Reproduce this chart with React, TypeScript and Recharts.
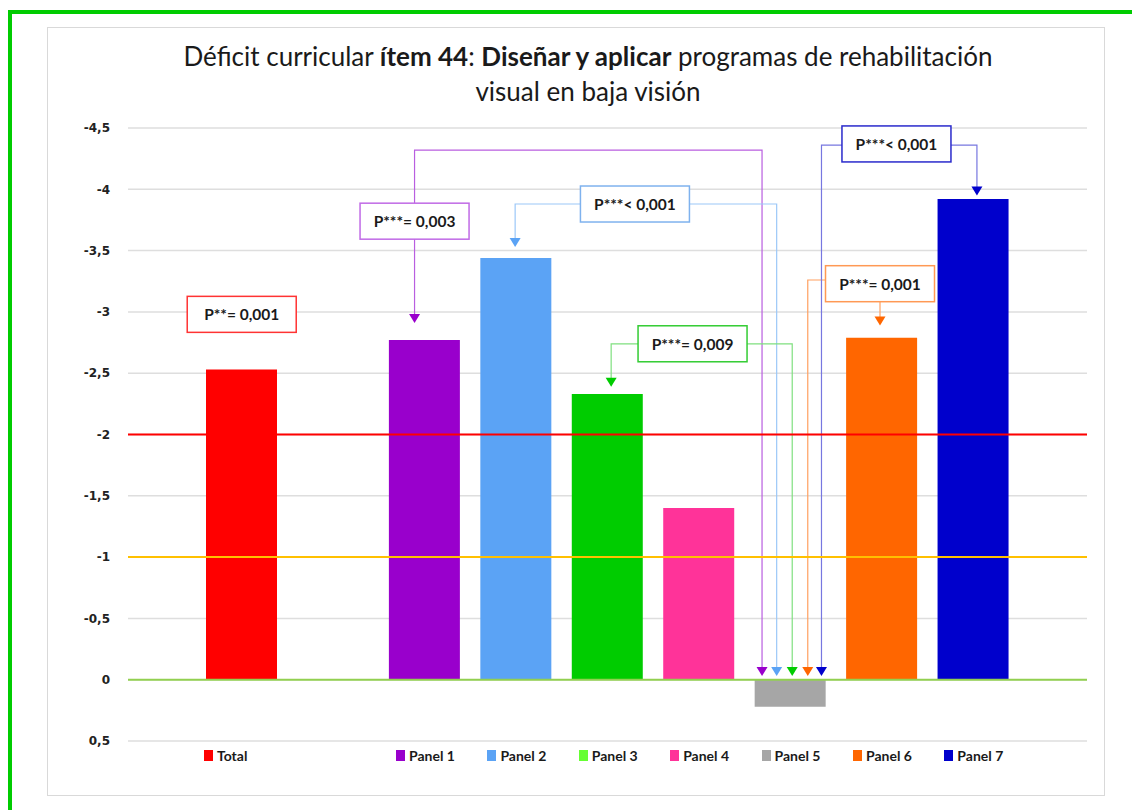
import { BarChart, Bar, XAxis, YAxis, CartesianGrid, ReferenceLine, Cell, Customized, usePlotArea } from 'recharts'

// categories (empty slot between Total and the panels)
const categories = ['Total', '', 'Panel 1', 'Panel 2', 'Panel 3', 'Panel 4', 'Panel 5', 'Panel 6', 'Panel 7']
const values = [-2.53, null, -2.77, -3.44, -2.33, -1.4, 0.22, -2.79, -3.92]
const barColors = ['#ff0000', 'transparent', '#9900cc', '#5ba3f5', '#00cc00', '#ff3399', '#a6a6a6', '#ff6600', '#0000cc']

const yTicks = [-4.5, -4, -3.5, -3, -2.5, -2, -1.5, -1, -0.5, 0, 0.5]

const legendNames = ['Total', 'Panel 1', 'Panel 2', 'Panel 3', 'Panel 4', 'Panel 5', 'Panel 6', 'Panel 7']
const legendColors = ['#ff0000', '#9900cc', '#5ba3f5', '#66ff33', '#ff3399', '#a6a6a6', '#ff6600', '#0000cc']

// threshold lines
const thresholds = [
  { y: -2, color: '#ff0000' },
  { y: -1, color: '#ffc000' },
  { y: 0, color: '#92d050' },
]

// significance boxes: position in category units (0 = Total) and value units,
// connector paths end with an arrow
const annotations = [
  { label: 'P**= 0,001', border: '#ff3333', line: '#ff3333', arrow: '#ff0000', u: 0, v: -2.98, paths: [] as number[][][] },
  {
    label: 'P***= 0,003', border: '#c06ae6', line: '#b95ee0', arrow: '#9900cc', u: 1.89, v: -3.74,
    paths: [
      [[1.89, -3.74], [1.89, -2.91]],
      [[1.89, -3.74], [1.89, -4.32], [5.69, -4.32], [5.69, -0.03]],
    ],
  },
  {
    label: 'P***< 0,001', border: '#7fb2ee', line: '#9cc8f8', arrow: '#5ba3f5', u: 4.3, v: -3.88,
    paths: [
      [[4.3, -3.88], [2.99, -3.88], [2.99, -3.53]],
      [[4.3, -3.88], [5.85, -3.88], [5.85, -0.03]],
    ],
  },
  {
    label: 'P***= 0,009', border: '#33cc33', line: '#7fe07f', arrow: '#00cc00', u: 4.93, v: -2.74,
    paths: [
      [[4.93, -2.74], [4.04, -2.74], [4.04, -2.39]],
      [[4.93, -2.74], [6.02, -2.74], [6.02, -0.03]],
    ],
  },
  {
    label: 'P***= 0,001', border: '#ff9955', line: '#ffa060', arrow: '#ff6600', u: 6.98, v: -3.23,
    paths: [
      [[6.98, -3.23], [6.98, -2.89]],
      [[6.98, -3.26], [6.19, -3.26], [6.19, -0.03]],
    ],
  },
  {
    label: 'P***< 0,001', border: '#2a2acc', line: '#7777e0', arrow: '#0000cc', u: 7.16, v: -4.37,
    paths: [
      [[7.16, -4.36], [8.04, -4.36], [8.04, -3.95]],
      [[7.16, -4.36], [6.34, -4.36], [6.34, -0.03]],
    ],
  },
]

const data = categories.map((name, i) => ({ name, value: values[i] }))

const Y_MIN = -4.5
const Y_MAX = 0.5
const X_PAD = 68
const FONT = 'Lato, "Open Sans", sans-serif'

function Annotations() {
  const plot = usePlotArea()
  if (!plot) return null
  const band = (plot.width - 2 * X_PAD) / categories.length
  const xs = (u: number) => plot.x + X_PAD + band * (u + 0.5)
  const ys = (v: number) => plot.y + ((v - Y_MIN) / (Y_MAX - Y_MIN)) * plot.height
  const boxW = 109
  const boxH = 36

  return (
    <g>
      {annotations.map((a, i) => (
        <g key={`ann-${i}`}>
          {a.paths.map((p, j) => {
            const pts = p.map(([u, v]) => [xs(u), ys(v)])
            const last = pts[pts.length - 1]
            const lineEnd = [...pts.slice(0, -1), [last[0], last[1] - 8]]
            return (
              <g key={`p-${j}`}>
                <polyline
                  points={lineEnd.map((q) => q.join(',')).join(' ')}
                  fill="none"
                  stroke={a.line}
                  strokeWidth={1.2}
                />
                <polygon
                  points={`${last[0]},${last[1]} ${last[0] - 5.5},${last[1] - 9} ${last[0] + 5.5},${last[1] - 9}`}
                  fill={a.arrow}
                />
              </g>
            )
          })}
          <rect
            x={xs(a.u) - boxW / 2}
            y={ys(a.v) - boxH / 2}
            width={boxW}
            height={boxH}
            fill="#ffffff"
            stroke={a.border}
            strokeWidth={1.5}
          />
          <text
            x={xs(a.u)}
            y={ys(a.v)}
            textAnchor="middle"
            dominantBaseline="central"
            fontFamily={FONT}
            fontWeight="bold"
            fontSize={15.5}
            fill="#1a1a1a"
          >
            {a.label}
          </text>
        </g>
      ))}
    </g>
  )
}

export default function App() {
  return (
    <div style={{ position: 'absolute', left: 0, top: 0, width: 1132, height: 810, background: '#ffffff', overflow: 'hidden' }}>
      {/* green frame */}
      <div style={{ position: 'absolute', left: 8, top: 10, width: 1124, height: 4, background: '#00cc00' }} />
      <div style={{ position: 'absolute', left: 8, top: 10, width: 4, height: 800, background: '#00cc00' }} />

      <div style={{ position: 'absolute', left: 47, top: 27, width: 1056, height: 767, border: '1px solid #d9d9d9' }}>
        <div
          style={{
            position: 'absolute',
            left: 12,
            top: 11,
            width: 1056,
            textAlign: 'center',
            fontFamily: FONT,
            fontSize: 26,
            lineHeight: '35px',
            color: '#1a1a1a',
          }}
        >
          Déficit curricular <b>ítem 44</b>: <b>Diseñar y aplicar</b> programas de rehabilitación
          <br />
          visual en baja visión
        </div>

        <BarChart width={1056} height={767} data={data} margin={{ top: 100, right: 17, bottom: 54, left: 30 }}>
          <CartesianGrid vertical={false} stroke="#dedede" strokeWidth={1.5} />
          <XAxis dataKey="name" hide padding={{ left: X_PAD, right: X_PAD }} />
          <YAxis
            reversed
            domain={[Y_MIN, Y_MAX]}
            ticks={yTicks}
            width={50}
            axisLine={false}
            tickLine={false}
            tickMargin={12}
            interval={0}
            tickFormatter={(v: number) => String(v).replace('.', ',')}
            tick={{ fontFamily: '"DejaVu Sans", sans-serif', fontWeight: 'bold', fontSize: 12, fill: '#222222' }}
          />
          <Bar dataKey="value" barSize={71} isAnimationActive={false}>
            {data.map((d, i) => (
              <Cell key={`cell-${i}`} fill={barColors[i]} />
            ))}
          </Bar>
          {thresholds.map((t) => (
            <ReferenceLine key={t.y} y={t.y} stroke={t.color} strokeWidth={2} />
          ))}
          <Customized component={<Annotations />} />
        </BarChart>
      </div>

      {/* legend */}
      <div style={{ position: 'absolute', left: 204, top: 747, display: 'flex', fontFamily: FONT, fontWeight: 'bold', fontSize: 14, color: '#1a1a1a' }}>
        {legendNames.map((n, i) => (
          <div key={n} style={{ width: i === 0 ? 192 : 91.4, display: 'flex', alignItems: 'center' }}>
            <span style={{ display: 'inline-block', width: 9, height: 11, background: legendColors[i], marginRight: 4 }} />
            {n}
          </div>
        ))}
      </div>
    </div>
  )
}
